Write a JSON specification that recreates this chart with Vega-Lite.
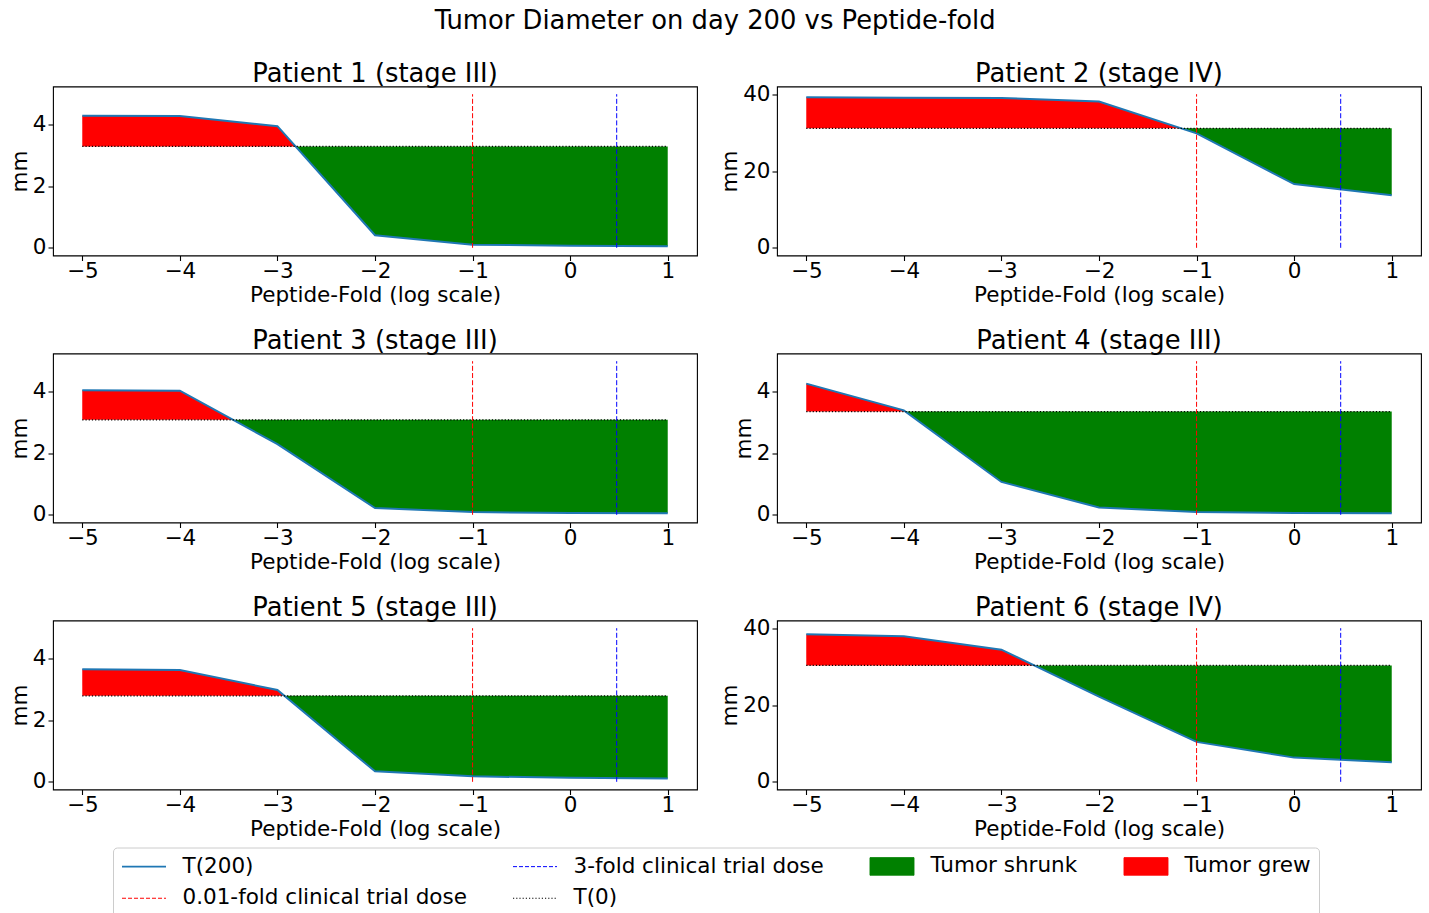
{
  "$schema": "https://vega.github.io/schema/vega-lite/v6.json",
  "padding": {"left": 8, "top": 7.5, "right": 5, "bottom": 0},
  "title": {"text": "Tumor Diameter on day 200 vs Peptide-fold", "fontSize": 25.8, "anchor": "middle", "offset": 25},
  "config": {
    "font": "DejaVu Sans",
    "view": {"stroke": "black", "strokeWidth": 1.1},
    "axis": {"grid": false, "domain": false, "tickColor": "black", "tickSize": 5, "tickWidth": 1.1, "labelFontSize": 21.5, "labelColor": "black", "labelFlush": false, "titleFontSize": 21.5, "titleFontWeight": "normal", "titleColor": "black", "labelFont": "DejaVu Sans", "titleFont": "DejaVu Sans"},
    "axisX": {"labelPadding": 0, "titlePadding": 2},
    "axisY": {"labelPadding": 2, "titlePadding": 1},
    "title": {"fontSize": 25.8, "fontWeight": "normal", "font": "DejaVu Sans", "color": "black", "offset": -1.3}
  },
  "datasets": {
    "curve": [
      {"p": 1, "x": -5, "T": 4.30}, {"p": 1, "x": -4, "T": 4.29}, {"p": 1, "x": -3, "T": 3.96}, {"p": 1, "x": -2, "T": 0.41}, {"p": 1, "x": -1, "T": 0.10}, {"p": 1, "x": 0, "T": 0.07}, {"p": 1, "x": 1, "T": 0.05},
      {"p": 2, "x": -5, "T": 39.2}, {"p": 2, "x": -4, "T": 39.1}, {"p": 2, "x": -3, "T": 39.0}, {"p": 2, "x": -2, "T": 38.1}, {"p": 2, "x": -1, "T": 29.8}, {"p": 2, "x": 0, "T": 16.6}, {"p": 2, "x": 1, "T": 13.7},
      {"p": 3, "x": -5, "T": 4.05}, {"p": 3, "x": -4, "T": 4.04}, {"p": 3, "x": -3, "T": 2.30}, {"p": 3, "x": -2, "T": 0.22}, {"p": 3, "x": -1, "T": 0.09}, {"p": 3, "x": 0, "T": 0.06}, {"p": 3, "x": 1, "T": 0.05},
      {"p": 4, "x": -5, "T": 4.27}, {"p": 4, "x": -4, "T": 3.40}, {"p": 4, "x": -3, "T": 1.07}, {"p": 4, "x": -2, "T": 0.24}, {"p": 4, "x": -1, "T": 0.09}, {"p": 4, "x": 0, "T": 0.06}, {"p": 4, "x": 1, "T": 0.05},
      {"p": 5, "x": -5, "T": 3.66}, {"p": 5, "x": -4, "T": 3.64}, {"p": 5, "x": -3, "T": 2.99}, {"p": 5, "x": -2, "T": 0.34}, {"p": 5, "x": -1, "T": 0.18}, {"p": 5, "x": 0, "T": 0.13}, {"p": 5, "x": 1, "T": 0.11},
      {"p": 6, "x": -5, "T": 38.4}, {"p": 6, "x": -4, "T": 37.9}, {"p": 6, "x": -3, "T": 34.4}, {"p": 6, "x": -2, "T": 22.2}, {"p": 6, "x": -1, "T": 10.4}, {"p": 6, "x": 0, "T": 6.3}, {"p": 6, "x": 1, "T": 5.1}
    ],
    "fill": [
      {"p": 1, "series": "Tumor grew", "x": -5, "T": 4.30, "T0": 3.30}, {"p": 1, "series": "Tumor grew", "x": -4, "T": 4.29, "T0": 3.30}, {"p": 1, "series": "Tumor grew", "x": -3, "T": 3.96, "T0": 3.30}, {"p": 1, "series": "Tumor grew", "x": -2.814, "T": 3.30, "T0": 3.30},
      {"p": 1, "series": "Tumor shrunk", "x": -2.814, "T": 3.30, "T0": 3.30}, {"p": 1, "series": "Tumor shrunk", "x": -2, "T": 0.41, "T0": 3.30}, {"p": 1, "series": "Tumor shrunk", "x": -1, "T": 0.10, "T0": 3.30}, {"p": 1, "series": "Tumor shrunk", "x": 0, "T": 0.07, "T0": 3.30}, {"p": 1, "series": "Tumor shrunk", "x": 1, "T": 0.05, "T0": 3.30},
      {"p": 2, "series": "Tumor grew", "x": -5, "T": 39.2, "T0": 31.1}, {"p": 2, "series": "Tumor grew", "x": -4, "T": 39.1, "T0": 31.1}, {"p": 2, "series": "Tumor grew", "x": -3, "T": 39.0, "T0": 31.1}, {"p": 2, "series": "Tumor grew", "x": -2, "T": 38.1, "T0": 31.1}, {"p": 2, "series": "Tumor grew", "x": -1.157, "T": 31.1, "T0": 31.1},
      {"p": 2, "series": "Tumor shrunk", "x": -1.157, "T": 31.1, "T0": 31.1}, {"p": 2, "series": "Tumor shrunk", "x": -1, "T": 29.8, "T0": 31.1}, {"p": 2, "series": "Tumor shrunk", "x": 0, "T": 16.6, "T0": 31.1}, {"p": 2, "series": "Tumor shrunk", "x": 1, "T": 13.7, "T0": 31.1},
      {"p": 3, "series": "Tumor grew", "x": -5, "T": 4.05, "T0": 3.09}, {"p": 3, "series": "Tumor grew", "x": -4, "T": 4.04, "T0": 3.09}, {"p": 3, "series": "Tumor grew", "x": -3.454, "T": 3.09, "T0": 3.09},
      {"p": 3, "series": "Tumor shrunk", "x": -3.454, "T": 3.09, "T0": 3.09}, {"p": 3, "series": "Tumor shrunk", "x": -3, "T": 2.30, "T0": 3.09}, {"p": 3, "series": "Tumor shrunk", "x": -2, "T": 0.22, "T0": 3.09}, {"p": 3, "series": "Tumor shrunk", "x": -1, "T": 0.09, "T0": 3.09}, {"p": 3, "series": "Tumor shrunk", "x": 0, "T": 0.06, "T0": 3.09}, {"p": 3, "series": "Tumor shrunk", "x": 1, "T": 0.05, "T0": 3.09},
      {"p": 4, "series": "Tumor grew", "x": -5, "T": 4.27, "T0": 3.36}, {"p": 4, "series": "Tumor grew", "x": -4, "T": 3.40, "T0": 3.36}, {"p": 4, "series": "Tumor grew", "x": -3.983, "T": 3.36, "T0": 3.36},
      {"p": 4, "series": "Tumor shrunk", "x": -3.983, "T": 3.36, "T0": 3.36}, {"p": 4, "series": "Tumor shrunk", "x": -3, "T": 1.07, "T0": 3.36}, {"p": 4, "series": "Tumor shrunk", "x": -2, "T": 0.24, "T0": 3.36}, {"p": 4, "series": "Tumor shrunk", "x": -1, "T": 0.09, "T0": 3.36}, {"p": 4, "series": "Tumor shrunk", "x": 0, "T": 0.06, "T0": 3.36}, {"p": 4, "series": "Tumor shrunk", "x": 1, "T": 0.05, "T0": 3.36},
      {"p": 5, "series": "Tumor grew", "x": -5, "T": 3.66, "T0": 2.80}, {"p": 5, "series": "Tumor grew", "x": -4, "T": 3.64, "T0": 2.80}, {"p": 5, "series": "Tumor grew", "x": -3, "T": 2.99, "T0": 2.80}, {"p": 5, "series": "Tumor grew", "x": -2.928, "T": 2.80, "T0": 2.80},
      {"p": 5, "series": "Tumor shrunk", "x": -2.928, "T": 2.80, "T0": 2.80}, {"p": 5, "series": "Tumor shrunk", "x": -2, "T": 0.34, "T0": 2.80}, {"p": 5, "series": "Tumor shrunk", "x": -1, "T": 0.18, "T0": 2.80}, {"p": 5, "series": "Tumor shrunk", "x": 0, "T": 0.13, "T0": 2.80}, {"p": 5, "series": "Tumor shrunk", "x": 1, "T": 0.11, "T0": 2.80},
      {"p": 6, "series": "Tumor grew", "x": -5, "T": 38.4, "T0": 30.3}, {"p": 6, "series": "Tumor grew", "x": -4, "T": 37.9, "T0": 30.3}, {"p": 6, "series": "Tumor grew", "x": -3, "T": 34.4, "T0": 30.3}, {"p": 6, "series": "Tumor grew", "x": -2.664, "T": 30.3, "T0": 30.3},
      {"p": 6, "series": "Tumor shrunk", "x": -2.664, "T": 30.3, "T0": 30.3}, {"p": 6, "series": "Tumor shrunk", "x": -2, "T": 22.2, "T0": 30.3}, {"p": 6, "series": "Tumor shrunk", "x": -1, "T": 10.4, "T0": 30.3}, {"p": 6, "series": "Tumor shrunk", "x": 0, "T": 6.3, "T0": 30.3}, {"p": 6, "series": "Tumor shrunk", "x": 1, "T": 5.1, "T0": 30.3}
    ],
    "base": [
      {"p": 1, "x0": -5, "x1": 1, "T0": 3.30}, {"p": 2, "x0": -5, "x1": 1, "T0": 31.1}, {"p": 3, "x0": -5, "x1": 1, "T0": 3.09},
      {"p": 4, "x0": -5, "x1": 1, "T0": 3.36}, {"p": 5, "x0": -5, "x1": 1, "T0": 2.80}, {"p": 6, "x0": -5, "x1": 1, "T0": 30.3}
    ],
    "vlines": [
      {"p": 1, "series": "0.01-fold clinical trial dose", "x": -1, "y0": 0, "y1": 5}, {"p": 1, "series": "3-fold clinical trial dose", "x": 0.477, "y0": 0, "y1": 5},
      {"p": 2, "series": "0.01-fold clinical trial dose", "x": -1, "y0": 0, "y1": 40}, {"p": 2, "series": "3-fold clinical trial dose", "x": 0.477, "y0": 0, "y1": 40},
      {"p": 3, "series": "0.01-fold clinical trial dose", "x": -1, "y0": 0, "y1": 5}, {"p": 3, "series": "3-fold clinical trial dose", "x": 0.477, "y0": 0, "y1": 5},
      {"p": 4, "series": "0.01-fold clinical trial dose", "x": -1, "y0": 0, "y1": 5}, {"p": 4, "series": "3-fold clinical trial dose", "x": 0.477, "y0": 0, "y1": 5},
      {"p": 5, "series": "0.01-fold clinical trial dose", "x": -1, "y0": 0, "y1": 5}, {"p": 5, "series": "3-fold clinical trial dose", "x": 0.477, "y0": 0, "y1": 5},
      {"p": 6, "series": "0.01-fold clinical trial dose", "x": -1, "y0": 0, "y1": 40}, {"p": 6, "series": "3-fold clinical trial dose", "x": 0.477, "y0": 0, "y1": 40}
    ]
  },
  "columns": 2,
  "spacing": {"row": 20, "column": 21},
  "concat": [
    {
      "title": "Patient 1 (stage III)", "width": 644, "height": 169,
      "layer": [
        {"data": {"name": "fill"}, "transform": [{"filter": "datum.p == 1"}], "mark": {"type": "area", "opacity": 1},
         "encoding": {
           "x": {"field": "x", "type": "quantitative", "scale": {"domain": [-5.3, 1.3], "nice": false, "zero": false}, "axis": {"values": [-5, -4, -3, -2, -1, 0, 1], "format": "d", "title": "Peptide-Fold (log scale)"}},
           "y": {"field": "T", "type": "quantitative", "scale": {"domain": [-0.25, 5.25], "nice": false, "zero": false}, "axis": {"values": [0, 2, 4], "title": "mm"}},
           "y2": {"field": "T0"},
           "color": {"field": "series", "type": "nominal",
             "scale": {"domain": ["T(200)", "3-fold clinical trial dose", "Tumor shrunk", "Tumor grew", "0.01-fold clinical trial dose", "T(0)"], "range": ["#1f77b4", "blue", "green", "red", "red", "black"]},
             "legend": {"title": null, "orient": "none", "legendX": 60, "legendY": 761, "columns": 4, "direction": "horizontal", "gridAlign": "each",
               "symbolSize": 1936, "symbolStrokeWidth": 1.5, "labelFontSize": 21.5, "labelFont": "DejaVu Sans", "labelColor": "black", "labelOffset": 40, "labelLimit": 500,
               "columnPadding": 44, "rowPadding": 9, "padding": 8, "strokeColor": "#cccccc", "fillColor": "white", "cornerRadius": 4,
               "encoding": {"symbols": {
                 "x": {"value": 23},
                 "shape": {"value": {"expr": "(datum.value == 'Tumor shrunk' || datum.value == 'Tumor grew') ? 'M-1,-0.4H1V0.4H-1Z' : 'stroke'"}},
                 "fill": {"value": {"expr": "datum.value == 'Tumor shrunk' ? 'green' : datum.value == 'Tumor grew' ? 'red' : 'transparent'"}},
                 "stroke": {"value": {"expr": "datum.value == 'T(200)' ? '#1f77b4' : datum.value == '3-fold clinical trial dose' ? 'blue' : datum.value == '0.01-fold clinical trial dose' ? 'red' : datum.value == 'T(0)' ? 'black' : 'transparent'"}},
                 "strokeDash": {"value": {"expr": "datum.value == 'T(0)' ? [1.2, 2] : (datum.value == '3-fold clinical trial dose' || datum.value == '0.01-fold clinical trial dose') ? [4, 2] : [1, 0]"}},
                 "strokeWidth": {"value": {"expr": "datum.value == 'T(200)' ? 1.8 : 1"}},
                 "opacity": {"value": 1}
               }}
             }}
         }},
        {"data": {"name": "curve"}, "transform": [{"filter": "datum.p == 1"}], "mark": {"type": "line", "color": "#1f77b4", "strokeWidth": 2},
         "encoding": {"x": {"field": "x", "type": "quantitative"}, "y": {"field": "T", "type": "quantitative"}}},
        {"data": {"name": "base"}, "transform": [{"filter": "datum.p == 1"}], "mark": {"type": "rule", "color": "black", "strokeWidth": 1.2, "strokeDash": [1.2, 2]},
         "encoding": {"x": {"field": "x0", "type": "quantitative"}, "x2": {"field": "x1"}, "y": {"field": "T0", "type": "quantitative"}}},
        {"data": {"name": "vlines"}, "transform": [{"filter": "datum.p == 1"}], "mark": {"type": "rule", "strokeWidth": 1, "strokeDash": [5, 2.2]},
         "encoding": {"x": {"field": "x", "type": "quantitative"}, "y": {"field": "y0", "type": "quantitative"}, "y2": {"field": "y1"},
           "color": {"field": "series", "type": "nominal", "legend": null, "scale": {"domain": ["T(200)", "3-fold clinical trial dose", "Tumor shrunk", "Tumor grew", "0.01-fold clinical trial dose", "T(0)"], "range": ["#1f77b4", "blue", "green", "red", "red", "black"]}}}}
      ]
    },
    {
      "title": {"text": "Patient 2 (stage IV)", "offset": -4.3}, "width": 644, "height": 169,
      "layer": [
        {"data": {"name": "fill"}, "transform": [{"filter": "datum.p == 2"}], "mark": {"type": "area", "opacity": 1},
         "encoding": {
           "x": {"field": "x", "type": "quantitative", "scale": {"domain": [-5.3, 1.3], "nice": false, "zero": false}, "axis": {"values": [-5, -4, -3, -2, -1, 0, 1], "format": "d", "title": "Peptide-Fold (log scale)"}},
           "y": {"field": "T", "type": "quantitative", "scale": {"domain": [-2, 42], "nice": false, "zero": false}, "axis": {"values": [0, 20, 40], "title": "mm"}},
           "y2": {"field": "T0"},
           "color": {"field": "series", "type": "nominal", "legend": null, "scale": {"domain": ["T(200)", "3-fold clinical trial dose", "Tumor shrunk", "Tumor grew", "0.01-fold clinical trial dose", "T(0)"], "range": ["#1f77b4", "blue", "green", "red", "red", "black"]}}
         }},
        {"data": {"name": "curve"}, "transform": [{"filter": "datum.p == 2"}], "mark": {"type": "line", "color": "#1f77b4", "strokeWidth": 2},
         "encoding": {"x": {"field": "x", "type": "quantitative"}, "y": {"field": "T", "type": "quantitative"}}},
        {"data": {"name": "base"}, "transform": [{"filter": "datum.p == 2"}], "mark": {"type": "rule", "color": "black", "strokeWidth": 1.2, "strokeDash": [1.2, 2]},
         "encoding": {"x": {"field": "x0", "type": "quantitative"}, "x2": {"field": "x1"}, "y": {"field": "T0", "type": "quantitative"}}},
        {"data": {"name": "vlines"}, "transform": [{"filter": "datum.p == 2"}], "mark": {"type": "rule", "strokeWidth": 1, "strokeDash": [5, 2.2]},
         "encoding": {"x": {"field": "x", "type": "quantitative"}, "y": {"field": "y0", "type": "quantitative"}, "y2": {"field": "y1"},
           "color": {"field": "series", "type": "nominal", "legend": null, "scale": {"domain": ["T(200)", "3-fold clinical trial dose", "Tumor shrunk", "Tumor grew", "0.01-fold clinical trial dose", "T(0)"], "range": ["#1f77b4", "blue", "green", "red", "red", "black"]}}}}
      ]
    },
    {
      "title": "Patient 3 (stage III)", "width": 644, "height": 169,
      "layer": [
        {"data": {"name": "fill"}, "transform": [{"filter": "datum.p == 3"}], "mark": {"type": "area", "opacity": 1},
         "encoding": {
           "x": {"field": "x", "type": "quantitative", "scale": {"domain": [-5.3, 1.3], "nice": false, "zero": false}, "axis": {"values": [-5, -4, -3, -2, -1, 0, 1], "format": "d", "title": "Peptide-Fold (log scale)"}},
           "y": {"field": "T", "type": "quantitative", "scale": {"domain": [-0.25, 5.25], "nice": false, "zero": false}, "axis": {"values": [0, 2, 4], "title": "mm"}},
           "y2": {"field": "T0"},
           "color": {"field": "series", "type": "nominal", "legend": null, "scale": {"domain": ["T(200)", "3-fold clinical trial dose", "Tumor shrunk", "Tumor grew", "0.01-fold clinical trial dose", "T(0)"], "range": ["#1f77b4", "blue", "green", "red", "red", "black"]}}
         }},
        {"data": {"name": "curve"}, "transform": [{"filter": "datum.p == 3"}], "mark": {"type": "line", "color": "#1f77b4", "strokeWidth": 2},
         "encoding": {"x": {"field": "x", "type": "quantitative"}, "y": {"field": "T", "type": "quantitative"}}},
        {"data": {"name": "base"}, "transform": [{"filter": "datum.p == 3"}], "mark": {"type": "rule", "color": "black", "strokeWidth": 1.2, "strokeDash": [1.2, 2]},
         "encoding": {"x": {"field": "x0", "type": "quantitative"}, "x2": {"field": "x1"}, "y": {"field": "T0", "type": "quantitative"}}},
        {"data": {"name": "vlines"}, "transform": [{"filter": "datum.p == 3"}], "mark": {"type": "rule", "strokeWidth": 1, "strokeDash": [5, 2.2]},
         "encoding": {"x": {"field": "x", "type": "quantitative"}, "y": {"field": "y0", "type": "quantitative"}, "y2": {"field": "y1"},
           "color": {"field": "series", "type": "nominal", "legend": null, "scale": {"domain": ["T(200)", "3-fold clinical trial dose", "Tumor shrunk", "Tumor grew", "0.01-fold clinical trial dose", "T(0)"], "range": ["#1f77b4", "blue", "green", "red", "red", "black"]}}}}
      ]
    },
    {
      "title": "Patient 4 (stage III)", "width": 644, "height": 169,
      "layer": [
        {"data": {"name": "fill"}, "transform": [{"filter": "datum.p == 4"}], "mark": {"type": "area", "opacity": 1},
         "encoding": {
           "x": {"field": "x", "type": "quantitative", "scale": {"domain": [-5.3, 1.3], "nice": false, "zero": false}, "axis": {"values": [-5, -4, -3, -2, -1, 0, 1], "format": "d", "title": "Peptide-Fold (log scale)"}},
           "y": {"field": "T", "type": "quantitative", "scale": {"domain": [-0.25, 5.25], "nice": false, "zero": false}, "axis": {"values": [0, 2, 4], "title": "mm"}},
           "y2": {"field": "T0"},
           "color": {"field": "series", "type": "nominal", "legend": null, "scale": {"domain": ["T(200)", "3-fold clinical trial dose", "Tumor shrunk", "Tumor grew", "0.01-fold clinical trial dose", "T(0)"], "range": ["#1f77b4", "blue", "green", "red", "red", "black"]}}
         }},
        {"data": {"name": "curve"}, "transform": [{"filter": "datum.p == 4"}], "mark": {"type": "line", "color": "#1f77b4", "strokeWidth": 2},
         "encoding": {"x": {"field": "x", "type": "quantitative"}, "y": {"field": "T", "type": "quantitative"}}},
        {"data": {"name": "base"}, "transform": [{"filter": "datum.p == 4"}], "mark": {"type": "rule", "color": "black", "strokeWidth": 1.2, "strokeDash": [1.2, 2]},
         "encoding": {"x": {"field": "x0", "type": "quantitative"}, "x2": {"field": "x1"}, "y": {"field": "T0", "type": "quantitative"}}},
        {"data": {"name": "vlines"}, "transform": [{"filter": "datum.p == 4"}], "mark": {"type": "rule", "strokeWidth": 1, "strokeDash": [5, 2.2]},
         "encoding": {"x": {"field": "x", "type": "quantitative"}, "y": {"field": "y0", "type": "quantitative"}, "y2": {"field": "y1"},
           "color": {"field": "series", "type": "nominal", "legend": null, "scale": {"domain": ["T(200)", "3-fold clinical trial dose", "Tumor shrunk", "Tumor grew", "0.01-fold clinical trial dose", "T(0)"], "range": ["#1f77b4", "blue", "green", "red", "red", "black"]}}}}
      ]
    },
    {
      "title": "Patient 5 (stage III)", "width": 644, "height": 169,
      "layer": [
        {"data": {"name": "fill"}, "transform": [{"filter": "datum.p == 5"}], "mark": {"type": "area", "opacity": 1},
         "encoding": {
           "x": {"field": "x", "type": "quantitative", "scale": {"domain": [-5.3, 1.3], "nice": false, "zero": false}, "axis": {"values": [-5, -4, -3, -2, -1, 0, 1], "format": "d", "title": "Peptide-Fold (log scale)"}},
           "y": {"field": "T", "type": "quantitative", "scale": {"domain": [-0.25, 5.25], "nice": false, "zero": false}, "axis": {"values": [0, 2, 4], "title": "mm"}},
           "y2": {"field": "T0"},
           "color": {"field": "series", "type": "nominal", "legend": null, "scale": {"domain": ["T(200)", "3-fold clinical trial dose", "Tumor shrunk", "Tumor grew", "0.01-fold clinical trial dose", "T(0)"], "range": ["#1f77b4", "blue", "green", "red", "red", "black"]}}
         }},
        {"data": {"name": "curve"}, "transform": [{"filter": "datum.p == 5"}], "mark": {"type": "line", "color": "#1f77b4", "strokeWidth": 2},
         "encoding": {"x": {"field": "x", "type": "quantitative"}, "y": {"field": "T", "type": "quantitative"}}},
        {"data": {"name": "base"}, "transform": [{"filter": "datum.p == 5"}], "mark": {"type": "rule", "color": "black", "strokeWidth": 1.2, "strokeDash": [1.2, 2]},
         "encoding": {"x": {"field": "x0", "type": "quantitative"}, "x2": {"field": "x1"}, "y": {"field": "T0", "type": "quantitative"}}},
        {"data": {"name": "vlines"}, "transform": [{"filter": "datum.p == 5"}], "mark": {"type": "rule", "strokeWidth": 1, "strokeDash": [5, 2.2]},
         "encoding": {"x": {"field": "x", "type": "quantitative"}, "y": {"field": "y0", "type": "quantitative"}, "y2": {"field": "y1"},
           "color": {"field": "series", "type": "nominal", "legend": null, "scale": {"domain": ["T(200)", "3-fold clinical trial dose", "Tumor shrunk", "Tumor grew", "0.01-fold clinical trial dose", "T(0)"], "range": ["#1f77b4", "blue", "green", "red", "red", "black"]}}}}
      ]
    },
    {
      "title": {"text": "Patient 6 (stage IV)", "offset": -4.3}, "width": 644, "height": 169,
      "layer": [
        {"data": {"name": "fill"}, "transform": [{"filter": "datum.p == 6"}], "mark": {"type": "area", "opacity": 1},
         "encoding": {
           "x": {"field": "x", "type": "quantitative", "scale": {"domain": [-5.3, 1.3], "nice": false, "zero": false}, "axis": {"values": [-5, -4, -3, -2, -1, 0, 1], "format": "d", "title": "Peptide-Fold (log scale)"}},
           "y": {"field": "T", "type": "quantitative", "scale": {"domain": [-2, 42], "nice": false, "zero": false}, "axis": {"values": [0, 20, 40], "title": "mm"}},
           "y2": {"field": "T0"},
           "color": {"field": "series", "type": "nominal", "legend": null, "scale": {"domain": ["T(200)", "3-fold clinical trial dose", "Tumor shrunk", "Tumor grew", "0.01-fold clinical trial dose", "T(0)"], "range": ["#1f77b4", "blue", "green", "red", "red", "black"]}}
         }},
        {"data": {"name": "curve"}, "transform": [{"filter": "datum.p == 6"}], "mark": {"type": "line", "color": "#1f77b4", "strokeWidth": 2},
         "encoding": {"x": {"field": "x", "type": "quantitative"}, "y": {"field": "T", "type": "quantitative"}}},
        {"data": {"name": "base"}, "transform": [{"filter": "datum.p == 6"}], "mark": {"type": "rule", "color": "black", "strokeWidth": 1.2, "strokeDash": [1.2, 2]},
         "encoding": {"x": {"field": "x0", "type": "quantitative"}, "x2": {"field": "x1"}, "y": {"field": "T0", "type": "quantitative"}}},
        {"data": {"name": "vlines"}, "transform": [{"filter": "datum.p == 6"}], "mark": {"type": "rule", "strokeWidth": 1, "strokeDash": [5, 2.2]},
         "encoding": {"x": {"field": "x", "type": "quantitative"}, "y": {"field": "y0", "type": "quantitative"}, "y2": {"field": "y1"},
           "color": {"field": "series", "type": "nominal", "legend": null, "scale": {"domain": ["T(200)", "3-fold clinical trial dose", "Tumor shrunk", "Tumor grew", "0.01-fold clinical trial dose", "T(0)"], "range": ["#1f77b4", "blue", "green", "red", "red", "black"]}}}}
      ]
    }
  ]
}
